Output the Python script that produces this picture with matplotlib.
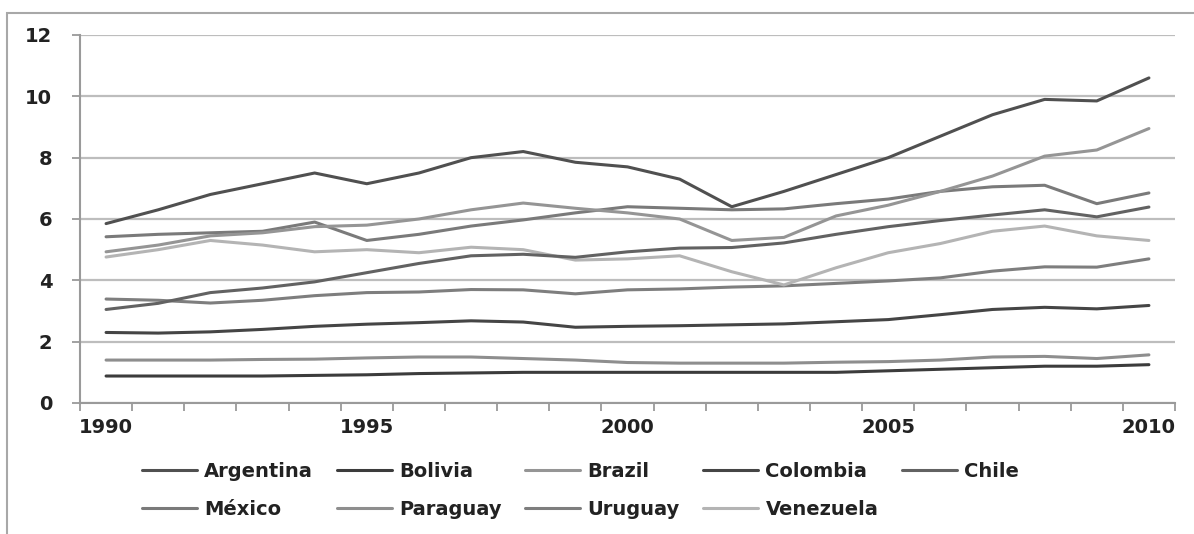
import matplotlib
matplotlib.use("Agg")
import matplotlib.pyplot as plt
from matplotlib.patches import Rectangle
from matplotlib.ticker import MultipleLocator, FixedLocator

# data
years = list(range(1990, 2011))

argentina = [5.85, 6.3, 6.8, 7.15, 7.5, 7.15, 7.5, 8.0, 8.2, 7.85, 7.7, 7.3, 6.4, 6.9, 7.45, 8.0, 8.7, 9.4, 9.9, 9.85, 10.6]
bolivia = [0.88, 0.88, 0.88, 0.88, 0.9, 0.92, 0.96, 0.98, 1.0, 1.0, 1.0, 1.0, 1.0, 1.0, 1.0, 1.05, 1.1, 1.15, 1.2, 1.2, 1.25]
brazil = [4.93, 5.15, 5.45, 5.55, 5.75, 5.8, 6.0, 6.3, 6.52, 6.35, 6.2, 6.0, 5.3, 5.4, 6.1, 6.45, 6.9, 7.4, 8.05, 8.25, 8.95]
colombia = [2.3, 2.28, 2.32, 2.4, 2.5, 2.57, 2.62, 2.68, 2.64, 2.47, 2.5, 2.52, 2.55, 2.58, 2.65, 2.72, 2.88, 3.05, 3.12, 3.07, 3.18]
chile = [3.05, 3.25, 3.6, 3.75, 3.95, 4.25, 4.55, 4.8, 4.85, 4.75, 4.93, 5.05, 5.07, 5.22, 5.5, 5.75, 5.95, 6.13, 6.3, 6.07, 6.39]
mexico = [5.42, 5.5, 5.55, 5.6, 5.9, 5.3, 5.5, 5.77, 5.97, 6.2, 6.4, 6.35, 6.3, 6.33, 6.5, 6.65, 6.9, 7.05, 7.1, 6.5, 6.85]
paraguay = [1.4, 1.4, 1.4, 1.42, 1.43, 1.47, 1.5, 1.5, 1.45, 1.4, 1.32, 1.3, 1.3, 1.3, 1.33, 1.35, 1.4, 1.5, 1.52, 1.45, 1.57]
uruguay = [3.39, 3.35, 3.26, 3.35, 3.5, 3.6, 3.62, 3.7, 3.69, 3.56, 3.69, 3.72, 3.78, 3.82, 3.9, 3.98, 4.08, 4.3, 4.44, 4.43, 4.7]
venezuela = [4.76, 5.0, 5.3, 5.15, 4.93, 5.0, 4.9, 5.08, 5.0, 4.66, 4.7, 4.8, 4.28, 3.85, 4.41, 4.9, 5.2, 5.6, 5.77, 5.45, 5.3]

# legend is filled column by column (Excel order row by row)
series = [
    ("Argentina", argentina, "#505050"),
    ("México", mexico, "#7a7a7a"),
    ("Bolivia", bolivia, "#3c3c3c"),
    ("Paraguay", paraguay, "#8e8e8e"),
    ("Brazil", brazil, "#959595"),
    ("Uruguay", uruguay, "#7e7e7e"),
    ("Colombia", colombia, "#454545"),
    ("Venezuela", venezuela, "#b4b4b4"),
    ("Chile", chile, "#626262"),
]

fig = plt.figure(figsize=(11.94, 5.34), dpi=100)
ax = fig.add_axes([80 / 1194, 1 - 403 / 534, 1095 / 1194, 368 / 534])

# outer chart border
fig.patches.append(Rectangle((7 / 1194, -0.2), 1.2, 1.2 - 13 / 534,
                             transform=fig.transFigure, fill=False,
                             edgecolor="#a8a8a8", linewidth=1.5))

for name, vals, col in series:
    ax.plot(years, vals, color=col, linewidth=2.2, label=name, solid_capstyle="round")

ax.set_xlim(1989.5, 2010.5)
ax.set_ylim(0, 12)
ax.yaxis.set_major_locator(MultipleLocator(2))
ax.grid(axis="y", color="#bdbdbd", linewidth=1.6)
ax.set_axisbelow(True)

ax.xaxis.set_major_locator(FixedLocator([1990, 1995, 2000, 2005, 2010]))
ax.xaxis.set_minor_locator(FixedLocator([y + 0.5 for y in range(1989, 2011)]))
ax.tick_params(axis="x", which="major", length=0, pad=11, labelsize=14, labelcolor="#222222")
ax.tick_params(axis="x", which="minor", length=6, width=1.3, color="#9a9a9a")
ax.tick_params(axis="y", length=6, width=1.3, color="#9a9a9a", pad=14, labelsize=14, labelcolor="#222222")
for lab in ax.get_xticklabels() + ax.get_yticklabels():
    lab.set_fontweight("bold")

for s in ["top", "right"]:
    ax.spines[s].set_visible(False)
for s in ["left", "bottom"]:
    ax.spines[s].set_color("#9a9a9a")
    ax.spines[s].set_linewidth(1.5)

leg = fig.legend(loc="upper left", bbox_to_anchor=(142 / 1194, 1 - 462 / 534), ncol=5,
                 frameon=False, prop={"size": 14, "weight": "bold"},
                 handlelength=2.83, handletextpad=0.36,
                 columnspacing=1.23, labelspacing=0.98, borderaxespad=0, borderpad=0)
for t in leg.get_texts():
    t.set_color("#222222")

plt.savefig("out.png", dpi=100)
